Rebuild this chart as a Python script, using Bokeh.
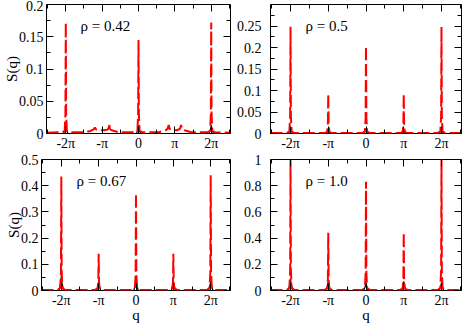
import math
from bokeh.plotting import figure
from bokeh.models import Range1d, FixedTicker, LinearAxis, Label
from bokeh.layouts import column, row
from bokeh.embed import file_html
from bokeh.resources import INLINE

PI = math.pi

# ---------------- data (q in units of pi) ----------------
rho_text = ["ρ = 0.42", "ρ = 0.5", "ρ = 0.67", "ρ = 1.0"]
y_max = [0.2, 0.3, 0.5, 1.0]
y_major = [[0, 0.05, 0.1, 0.15, 0.2],
           [0, 0.05, 0.1, 0.15, 0.2, 0.25],
           [0, 0.1, 0.2, 0.3, 0.4, 0.5],
           [0, 0.2, 0.4, 0.6, 0.8, 1.0]]
y_minor = [[0.025, 0.075, 0.125, 0.175],
           [0.025, 0.075, 0.125, 0.175, 0.225, 0.275],
           [0.05, 0.15, 0.25, 0.35, 0.45],
           [0.1, 0.3, 0.5, 0.7, 0.9]]
y_labels = [["0", "0.05", "0.1", "0.15", "0.2"],
            ["0", "0.05", "0.1", "0.15", "0.2", "0.25"],
            ["0", "0.1", "0.2", "0.3", "0.4", "0.5"],
            ["0", "0.2", "0.4", "0.6", "0.8", "1"]]
x_major_pi = [-2, -1, 0, 1, 2]
x_minor_pi = [-2.5, -1.5, -0.5, 0.5, 1.5, 2.5]
x_labels = ["-2π", "-π", "0", "π", "2π"]
x_lim = 7.95

# panel 1 (rho = 0.42), red dashed curve
q_red_1 = [-2.53, -2.10, -2.03, -2.01, -2.00, -1.99, -1.97, -1.90,
           -1.45, -1.32, -1.24, -1.20, -1.16, -1.05,
           -0.95, -0.85, -0.81, -0.80, -0.79, -0.74, -0.55,
           -0.10, -0.03, -0.01, 0.00, 0.01, 0.03, 0.10,
           0.55, 0.74, 0.80, 0.83, 0.86, 0.95,
           1.05, 1.14, 1.17, 1.20, 1.26, 1.45,
           1.90, 1.97, 1.99, 2.00, 2.01, 2.03, 2.10, 2.53]
s_red_1 = [0.001, 0.002, 0.004, 0.03, 0.172, 0.03, 0.004, 0.002,
           0.002, 0.004, 0.006, 0.009, 0.006, 0.005,
           0.005, 0.006, 0.010, 0.016, 0.007, 0.005, 0.002,
           0.002, 0.004, 0.03, 0.145, 0.03, 0.004, 0.002,
           0.002, 0.005, 0.007, 0.013, 0.007, 0.005,
           0.005, 0.007, 0.013, 0.007, 0.005, 0.002,
           0.002, 0.004, 0.03, 0.172, 0.03, 0.004, 0.002, 0.001]

# panels 2-4, red dashed curves share the q grid
q_red = [-2.53, -2.10, -2.03, -2.01, -2.00, -1.99, -1.97, -1.90,
         -1.10, -1.03, -1.01, -1.00, -0.99, -0.97, -0.90,
         -0.10, -0.03, -0.01, 0.00, 0.01, 0.03, 0.10,
         0.90, 0.97, 0.99, 1.00, 1.01, 1.03, 1.10,
         1.90, 1.97, 1.99, 2.00, 2.01, 2.03, 2.10, 2.53]
s_red_2 = [0.001, 0.001, 0.005, 0.04, 0.248, 0.04, 0.005, 0.001,
           0.001, 0.004, 0.02, 0.092, 0.02, 0.004, 0.001,
           0.001, 0.005, 0.035, 0.203, 0.035, 0.005, 0.001,
           0.001, 0.004, 0.02, 0.092, 0.02, 0.004, 0.001,
           0.001, 0.005, 0.04, 0.248, 0.04, 0.005, 0.001, 0.001]
s_red_3 = [0.002, 0.002, 0.01, 0.07, 0.435, 0.07, 0.01, 0.002,
           0.002, 0.008, 0.03, 0.14, 0.03, 0.008, 0.002,
           0.002, 0.01, 0.06, 0.37, 0.06, 0.01, 0.002,
           0.002, 0.008, 0.03, 0.14, 0.03, 0.008, 0.002,
           0.002, 0.01, 0.07, 0.44, 0.07, 0.01, 0.002, 0.002]
s_red_4 = [0.004, 0.004, 0.02, 0.15, 1.0, 0.15, 0.02, 0.004,
           0.004, 0.015, 0.08, 0.44, 0.08, 0.015, 0.004,
           0.004, 0.02, 0.13, 0.83, 0.13, 0.02, 0.004,
           0.004, 0.015, 0.08, 0.44, 0.08, 0.015, 0.004,
           0.004, 0.02, 0.15, 1.0, 0.15, 0.02, 0.004, 0.004]

# dark small peaks at the base
q_dark = [-2.53, -2.06, -2.02, -2.00, -1.98, -1.94,
          -1.06, -1.02, -1.00, -0.98, -0.94,
          -0.06, -0.02, 0.00, 0.02, 0.06,
          0.94, 0.98, 1.00, 1.02, 1.06,
          1.94, 1.98, 2.00, 2.02, 2.06, 2.53]
s_dark_1 = [0, 0, 0.006, 0.013, 0.006, 0,
            0, 0, 0, 0, 0,
            0, 0.005, 0.011, 0.005, 0,
            0, 0, 0, 0, 0,
            0, 0.006, 0.013, 0.006, 0, 0]
s_dark_2 = [0, 0, 0.006, 0.012, 0.006, 0,
            0, 0.004, 0.008, 0.004, 0,
            0, 0.006, 0.012, 0.006, 0,
            0, 0.004, 0.008, 0.004, 0,
            0, 0.006, 0.012, 0.006, 0, 0]
s_dark_3 = [0, 0, 0.027, 0.055, 0.027, 0,
            0, 0.015, 0.03, 0.015, 0,
            0, 0.021, 0.043, 0.021, 0,
            0, 0.018, 0.037, 0.018, 0,
            0, 0.018, 0.037, 0.018, 0, 0]
s_dark_4 = [0, 0, 0.044, 0.088, 0.044, 0,
            0, 0.037, 0.074, 0.037, 0,
            0, 0.03, 0.06, 0.03, 0,
            0, 0.035, 0.07, 0.035, 0,
            0, 0.03, 0.06, 0.03, 0, 0]

red_series = [(q_red_1, s_red_1), (q_red, s_red_2), (q_red, s_red_3), (q_red, s_red_4)]
dark_series = [s_dark_1, s_dark_2, s_dark_3, s_dark_4]

FONT = "Liberation Serif"


def panel(k, width, height, bl, br, bt, bb, show_s, show_q):
    fh = height - bt - bb
    ymax = y_max[k]
    p = figure(width=width, height=height, min_border_left=bl, min_border_right=br,
               min_border_top=bt, min_border_bottom=bb,
               x_range=Range1d(-x_lim, x_lim), y_range=Range1d(0, ymax),
               x_axis_type=None, y_axis_type=None,
               output_backend="svg", toolbar_location=None)
    p.xgrid.visible = False
    p.ygrid.visible = False
    p.outline_line_color = "black"
    p.outline_line_width = 1
    p.background_fill_color = "white"
    p.border_fill_color = "white"

    xt = FixedTicker(ticks=[v * PI for v in x_major_pi], minor_ticks=[v * PI for v in x_minor_pi])
    yt = FixedTicker(ticks=y_major[k], minor_ticks=y_minor[k])

    def style(ax, labels):
        ax.axis_line_color = None
        ax.major_tick_in = 7
        ax.major_tick_out = 0
        ax.minor_tick_in = 4
        ax.minor_tick_out = 0
        ax.major_tick_line_color = "black"
        ax.minor_tick_line_color = "black"
        ax.axis_label_text_font = FONT
        ax.axis_label_text_font_style = "normal"
        ax.axis_label_text_color = "black"
        ax.axis_label_text_font_size = "15px"
        if labels:
            ax.major_label_text_font = FONT
            ax.major_label_text_font_size = "14px"
            ax.major_label_text_color = "black"
        else:
            # mirror axis: ticks only, no tick labels drawn
            ax.major_label_text_font_size = "0px"
            ax.major_label_text_color = None
            ax.major_label_standoff = 0

    bx = LinearAxis(ticker=xt)
    style(bx, True)
    bx.major_label_overrides = {v * PI: t for v, t in zip(x_major_pi, x_labels)}
    bx.major_label_standoff = 2
    if show_q:
        bx.axis_label = "q"
        bx.axis_label_standoff = -4
    p.add_layout(bx, "below")

    tx = LinearAxis(ticker=xt)
    style(tx, False)
    p.add_layout(tx, "above")

    ly = LinearAxis(ticker=yt)
    style(ly, True)
    ly.major_label_overrides = {v: t for v, t in zip(y_major[k], y_labels[k])}
    if show_s:
        ly.axis_label = "S(q)"
        ly.axis_label_standoff = -4
        ly.major_label_standoff = 3
    else:
        ly.major_label_standoff = 9
    p.add_layout(ly, "left")

    ry = LinearAxis(ticker=yt)
    style(ry, False)
    p.add_layout(ry, "right")

    qr, sr = red_series[k]
    p.line([v * PI for v in q_dark], dark_series[k], line_color="black", line_width=1.2)
    p.line([v * PI for v in qr], sr, line_color="red", line_width=2, line_dash="12 4")

    fw = width - bl - br
    xscale = fw / (2 * x_lim)
    p.add_layout(Label(x=-x_lim + 35 / xscale, y=ymax * (1 - 22 / fh), text=rho_text[k],
                       text_font=FONT, text_font_size="15px", text_color="black",
                       text_align="left", text_baseline="middle"))
    return p


p1 = panel(0, 231, 153, 41, 1, 4, 19, True, False)
p2 = panel(1, 232, 153, 39, 2, 4, 19, False, False)
p3 = panel(2, 231, 172, 41, 1, 6, 32, True, True)
p4 = panel(3, 232, 172, 39, 2, 6, 32, False, True)

layout = column(row(p1, p2), row(p3, p4))
open("out.html", "w").write(file_html(layout, INLINE))
